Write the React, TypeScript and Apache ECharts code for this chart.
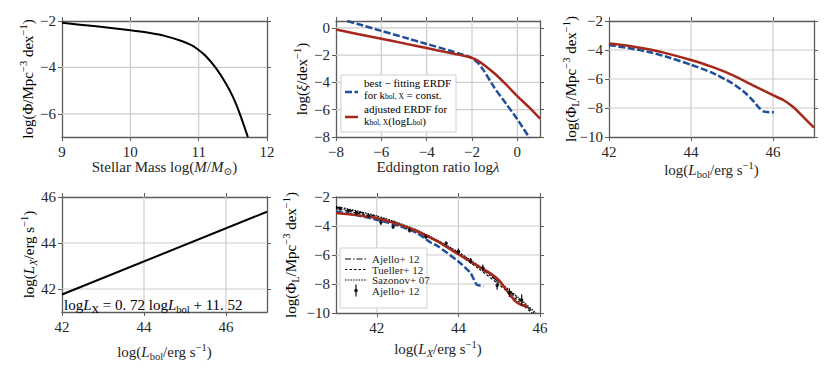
import React, { useEffect, useRef } from "react";
import * as echarts from "echarts";

// ---------- data ----------
// Panel 1: stellar mass function
const massX = [9, 9.5, 10, 10.25, 10.5, 10.75, 10.9, 11, 11.1, 11.25, 11.4, 11.5, 11.6, 11.72];
const massY = [-2.08, -2.23, -2.4, -2.5, -2.64, -2.86, -3.05, -3.25, -3.5, -4.02, -4.7, -5.26, -5.98, -7.0];

// Panel 2: ERDF
const erdfBlueX = [-7.5, -7, -6, -5, -4, -3, -2.5, -2.2, -2, -1.75, -1.5, -1, -0.5, 0, 0.55];
const erdfBlueY = [0.5, 0.26, -0.22, -0.7, -1.18, -1.66, -1.92, -2.07, -2.22, -2.55, -3.08, -4.42, -5.55, -6.7, -8.1];
const erdfRedX = [-8, -7, -6, -5, -4, -3, -2.5, -2.2, -2, -1.75, -1.5, -1, -0.5, 0, 0.5, 1];
const erdfRedY = [-0.12, -0.47, -0.8, -1.14, -1.48, -1.83, -2.0, -2.1, -2.2, -2.4, -2.68, -3.35, -4.15, -5.0, -5.8, -6.65];

// Panel 3: bolometric LF
const lbolRedX = [42, 42.5, 43, 43.5, 44, 44.5, 45, 45.5, 46, 46.25, 46.5, 46.75, 47];
const lbolRedY = [-3.55, -3.72, -3.97, -4.3, -4.69, -5.15, -5.72, -6.42, -7.12, -7.45, -7.95, -8.65, -9.35];
const lbolBlueX = [42, 42.5, 43, 43.5, 44, 44.5, 45, 45.3, 45.5, 45.65, 45.78, 46.02];
const lbolBlueY = [-3.65, -3.88, -4.15, -4.55, -5.02, -5.55, -6.28, -6.9, -7.45, -7.95, -8.25, -8.3];

// Panel 4: bolometric correction relation
const relX = [42, 47];
const relY = [41.76, 45.36];

// Panel 5: X-ray LF
const xlfRedX = [41, 41.5, 42, 42.5, 43, 43.5, 44, 44.5, 44.8, 45, 45.2, 45.4, 45.55, 45.7];
const xlfRedY = [-3.1, -3.25, -3.46, -3.85, -4.38, -5.08, -5.95, -6.8, -7.3, -7.75, -8.5, -9.2, -9.45, -9.55];
const xlfBlueX = [41, 41.5, 42, 42.5, 43, 43.3, 43.5, 44, 44.3, 44.45, 44.62];
const xlfBlueY = [-3.0, -3.25, -3.57, -3.95, -4.5, -5.1, -5.4, -6.45, -7.25, -8.05, -8.15];
const ajelloLineX = [41, 41.5, 42, 42.5, 43, 43.5, 44, 44.5, 45, 45.5, 45.85];
const ajelloLineY = [-2.7, -3.0, -3.35, -3.8, -4.35, -5.05, -5.85, -6.8, -7.9, -9.1, -10];
const tuellerX = [41, 41.5, 42, 42.5, 43, 43.5, 44, 44.5, 45, 45.5, 45.8];
const tuellerY = [-2.8, -3.1, -3.45, -3.9, -4.4, -5.1, -5.95, -6.95, -8.05, -9.25, -10];
const sazonovX = [41, 41.5, 42, 42.5, 43, 43.5, 44, 44.5, 45, 45.5, 45.9];
const sazonovY = [-2.65, -2.95, -3.3, -3.75, -4.3, -5.0, -5.8, -6.75, -7.85, -9.0, -10];
const ajPtsX = [41.1, 41.3, 41.5, 41.8, 42.1, 42.4, 42.8, 43.2, 43.7, 44.0, 44.3, 44.6, 44.95, 45.25, 45.55];
const ajPtsY = [-2.8, -2.95, -3.1, -3.3, -3.75, -4.05, -4.3, -4.75, -5.2, -5.75, -6.4, -6.9, -8.1, -8.6, -9.1];
const ajPtsE = [0.15, 0.12, 0.15, 0.12, 0.2, 0.15, 0.15, 0.15, 0.15, 0.2, 0.2, 0.25, 0.3, 0.3, 0.4];

// tick values
const ticksMass = [9, 10, 11, 12];
const ticksMassY = [-6, -4, -2];
const ticksEdd = [-8, -6, -4, -2, 0];
const ticksXi = [-8, -6, -4, -2, 0];
const ticksL = [42, 44, 46];
const ticksPhi = [-10, -8, -6, -4, -2];
const ticksLX = [42, 44, 46];

// ---------- style ----------
const F = "'Liberation Serif', 'DejaVu Serif', serif";
const TC = "#262626";
const FRAME = "#5c5c5c";
const GRIDC = "#cdcdcd";
const BLUE = "#1f4f9c";
const RED = "#a5291b";

const rich: any = {
  n: { fontFamily: F, fontSize: 15, color: TC, lineHeight: 20 },
  i: { fontFamily: F, fontSize: 15, color: TC, fontStyle: "italic", lineHeight: 20 },
  sb: { fontFamily: F, fontSize: 10.5, color: TC, verticalAlign: "bottom" },
  sbi: { fontFamily: F, fontSize: 10.5, color: TC, fontStyle: "italic", verticalAlign: "bottom" },
  sp: { fontFamily: F, fontSize: 10.5, color: TC, verticalAlign: "top" },
};

const lrich: any = {
  a: { fontFamily: F, fontSize: 11, color: TC, lineHeight: 11.5 },
  s: { fontFamily: F, fontSize: 7.5, color: TC, verticalAlign: "bottom", lineHeight: 11.5 },
};

const fmt = (v: number) => (v < 0 ? "\u2212" + Math.abs(v) : String(v));
const zip = (xs: number[], ys: number[]) => xs.map((x, i) => [x, ys[i]]);

type Panel = {
  left: number; top: number; width: number; height: number;
  xMin: number; xMax: number; xTicks: number[];
  yMin: number; yMax: number; yTicks: number[];
  xName: string; yName: string; xGap: number; yNameX: number;
};

const panels: Panel[] = [
  { left: 62, top: 21, width: 205, height: 116, xMin: 9, xMax: 12, xTicks: ticksMass, yMin: -7, yMax: -2, yTicks: ticksMassY,
    xName: "{n|Stellar Mass log(}{i|M}{n|/}{i|M}{sb|\u2299}{n|)}", yName: "{n|log(\u03a6/Mpc}{sp|\u22123}{n| dex}{sp|\u22121}{n|)}", xGap: 20, yNameX: 28 },
  { left: 336, top: 21, width: 204, height: 116, xMin: -8, xMax: 1, xTicks: ticksEdd, yMin: -8, yMax: 0.5, yTicks: ticksXi,
    xName: "{n|Eddington ratio log}{i|\u03bb}", yName: "{n|log(}{i|\u03be}{n|/dex}{sp|\u22121}{n|)}", xGap: 20, yNameX: 302 },
  { left: 609, top: 21, width: 205, height: 116, xMin: 42, xMax: 47, xTicks: ticksL, yMin: -10, yMax: -2, yTicks: ticksPhi,
    xName: "{n|log(}{i|L}{sb|bol}{n|/erg s}{sp|\u22121}{n|)}", yName: "{n|log(\u03a6}{sb|L}{n|/Mpc}{sp|\u22123}{n| dex}{sp|\u22121}{n|)}", xGap: 22, yNameX: 571 },
  { left: 62, top: 197, width: 205, height: 115, xMin: 42, xMax: 47, xTicks: ticksL, yMin: 41, yMax: 46, yTicks: ticksLX,
    xName: "{n|log(}{i|L}{sb|bol}{n|/erg s}{sp|\u22121}{n|)}", yName: "{n|log(}{i|L}{sbi|X}{n|/erg s}{sp|\u22121}{n|)}", xGap: 30, yNameX: 29 },
  { left: 336, top: 197, width: 204, height: 116, xMin: 41, xMax: 46, xTicks: ticksLX, yMin: -10, yMax: -2, yTicks: ticksPhi,
    xName: "{n|log(}{i|L}{sbi|X}{n|/erg s}{sp|\u22121}{n|)}", yName: "{n|log(\u03a6}{sb|L}{n|/Mpc}{sp|\u22123}{n| dex}{sp|\u22121}{n|)}", xGap: 26, yNameX: 291 },
];

function buildOption() {
  const grid: any[] = [];
  const xAxis: any[] = [];
  const yAxis: any[] = [];
  const frameLine = { show: true, onZero: false, lineStyle: { color: FRAME, width: 1.3 } };
  const tickStyle = { color: FRAME, width: 1 };
  const labelStyle = { fontFamily: F, fontSize: 15, color: TC };
  const mainX: number[] = [];
  const mainY: number[] = [];

  panels.forEach((p, gi) => {
    grid.push({ left: p.left, top: p.top, width: p.width, height: p.height, containLabel: false });
    mainX.push(xAxis.length);
    xAxis.push({
      type: "value", gridIndex: gi, min: p.xMin, max: p.xMax, position: "bottom",
      axisLine: frameLine,
      axisTick: { show: true, inside: false, length: 4, customValues: p.xTicks, lineStyle: tickStyle },
      axisLabel: { show: true, customValues: p.xTicks, formatter: fmt, margin: 7, ...labelStyle },
      splitLine: { show: false },
      name: p.xName, nameLocation: "middle", nameGap: p.xGap,
      nameTextStyle: { rich },
    });
    xAxis.push({
      type: "value", gridIndex: gi, min: p.xMin, max: p.xMax, position: "top",
      axisLine: frameLine,
      axisTick: { show: true, inside: false, length: 4, customValues: p.xTicks, lineStyle: tickStyle },
      axisLabel: { show: false }, splitLine: { show: false },
    });
    mainY.push(yAxis.length);
    yAxis.push({
      type: "value", gridIndex: gi, min: p.yMin, max: p.yMax, position: "left",
      axisLine: frameLine,
      axisTick: { show: true, inside: false, length: 4, customValues: p.yTicks, lineStyle: tickStyle },
      axisLabel: { show: true, customValues: p.yTicks, formatter: fmt, margin: 6, ...labelStyle },
      splitLine: { show: false },
    });
    yAxis.push({
      type: "value", gridIndex: gi, min: p.yMin, max: p.yMax, position: "right",
      axisLine: frameLine,
      axisTick: { show: true, inside: false, length: 4, customValues: p.yTicks, lineStyle: tickStyle },
      axisLabel: { show: false }, splitLine: { show: false },
    });
  });

  const line = (gi: number, xs: number[], ys: number[], color: string, width: number, type: any, smooth = true, z = 3) => ({
    type: "line", xAxisIndex: mainX[gi], yAxisIndex: mainY[gi], data: zip(xs, ys),
    symbol: "none", showSymbol: false, smooth: smooth ? 0.2 : false, clip: false,
    lineStyle: { color, width, type, opacity: 1 },
    z,
  });

  // grid lines at tick values, each a two-point line through the panel's own axes
  const gridSeries: any[] = [];
  panels.forEach((p, gi) => {
    p.xTicks.filter((v) => v > p.xMin && v < p.xMax).forEach((v) => {
      gridSeries.push(line(gi, [v, v], [p.yMin, p.yMax], GRIDC, 1.2, "solid", false, 2));
    });
    p.yTicks.filter((v) => v > p.yMin && v < p.yMax).forEach((v) => {
      gridSeries.push(line(gi, [p.xMin, p.xMax], [v, v], GRIDC, 1.2, "solid", false, 2));
    });
  });

  const clipLine = (o: any) => ({ ...o, clip: true });

  const series: any[] = [
    ...gridSeries,
    clipLine(line(0, massX, massY, "#000", 2, "solid")),
    clipLine(line(1, erdfBlueX, erdfBlueY, BLUE, 2.5, [7, 2.5])),
    clipLine(line(1, erdfRedX, erdfRedY, RED, 2.5, "solid")),
    clipLine(line(2, lbolBlueX, lbolBlueY, BLUE, 2.5, [7, 2.5])),
    clipLine(line(2, lbolRedX, lbolRedY, RED, 2.5, "solid")),
    clipLine(line(3, relX, relY, "#000", 2, "solid", false)),
    clipLine(line(4, ajelloLineX, ajelloLineY, "#000", 1.2, [6, 2, 1.5, 2])),
    clipLine(line(4, tuellerX, tuellerY, "#000", 1.2, [2.5, 2])),
    clipLine(line(4, sazonovX, sazonovY, "#000", 1.2, [1.5, 1.2])),
    {
      type: "custom", xAxisIndex: mainX[4], yAxisIndex: mainY[4], z: 4,
      data: ajPtsX.map((x, i) => [x, ajPtsY[i], ajPtsE[i]]),
      encode: { x: 0, y: 1 },
      renderItem: (params: any, api: any) => {
        const x = api.value(0), y = api.value(1), e = api.value(2);
        const t = api.coord([x, y + e]);
        const b = api.coord([x, y - e]);
        const c = api.coord([x, y]);
        return {
          type: "group",
          children: [
            { type: "line", shape: { x1: t[0], y1: t[1], x2: b[0], y2: b[1] }, style: { stroke: "#111", lineWidth: 1.2 } },
            { type: "circle", shape: { cx: c[0], cy: c[1], r: 1.7 }, style: { fill: "#111" } },
          ],
        };
      },
    },
    clipLine(line(4, xlfBlueX, xlfBlueY, BLUE, 2.5, [7, 2.5])),
    clipLine(line(4, xlfRedX, xlfRedY, RED, 2.5, "solid")),
  ];

  const yNames = panels.map((p) => ({
    type: "text", x: p.yNameX, y: p.top + p.height / 2, rotation: Math.PI / 2, z: 11,
    style: { text: p.yName, rich, align: "center", verticalAlign: "middle" },
  }));

  const graphic: any[] = [
    ...yNames,
    // panel 2 legend
    { type: "rect", shape: { x: 341, y: 75, width: 115, height: 57 }, style: { fill: "rgba(255,255,255,0.92)", stroke: "#cfcfcf", lineWidth: 1 }, z: 10 },
    { type: "line", shape: { x1: 345, y1: 92, x2: 358, y2: 92 }, style: { stroke: BLUE, lineWidth: 2.5, lineDash: [7, 2.5] }, z: 11 },
    { type: "text", x: 364, y: 77.5, z: 11, style: { text: "{a|best \u2212 fitting ERDF}\n{a|for k}{s|bol, X}{a| = const.}", rich: lrich } },
    { type: "line", shape: { x1: 345, y1: 117, x2: 358, y2: 117 }, style: { stroke: RED, lineWidth: 2.5 }, z: 11 },
    { type: "text", x: 364, y: 103.5, z: 11, style: { text: "{a|adjusted ERDF for}\n{a|k}{s|bol, X}{a|(logL}{s|bol}{a|)}", rich: lrich } },
    // panel 4 annotation
    { type: "text", x: 64, y: 295, z: 11, style: { text: "{n|log}{i|L}{sb|X}{n| = 0. 72 log}{i|L}{sb|bol}{n| + 11. 52}", rich } },
    // panel 5 legend
    { type: "rect", shape: { x: 340, y: 248, width: 87, height: 60 }, style: { fill: "rgba(255,255,255,0.92)", stroke: "#cfcfcf", lineWidth: 1 }, z: 10 },
    { type: "line", shape: { x1: 345, y1: 259, x2: 367, y2: 259 }, style: { stroke: "#000", lineWidth: 1.2, lineDash: [6, 2, 1.5, 2] }, z: 11 },
    { type: "text", x: 372, y: 259, z: 11, style: { text: "Ajello+ 12", font: `11px ${F}`, fill: TC, verticalAlign: "middle" } },
    { type: "line", shape: { x1: 345, y1: 269.5, x2: 367, y2: 269.5 }, style: { stroke: "#000", lineWidth: 1.2, lineDash: [2.5, 2] }, z: 11 },
    { type: "text", x: 372, y: 269.5, z: 11, style: { text: "Tueller+ 12", font: `11px ${F}`, fill: TC, verticalAlign: "middle" } },
    { type: "line", shape: { x1: 345, y1: 280, x2: 367, y2: 280 }, style: { stroke: "#000", lineWidth: 1.2, lineDash: [1.5, 1.2] }, z: 11 },
    { type: "text", x: 372, y: 280, z: 11, style: { text: "Sazonov+ 07", font: `11px ${F}`, fill: TC, verticalAlign: "middle" } },
    { type: "line", shape: { x1: 356, y1: 284.5, x2: 356, y2: 296.5 }, style: { stroke: "#111", lineWidth: 1.2 }, z: 11 },
    { type: "circle", shape: { cx: 356, cy: 290.5, r: 1.8 }, style: { fill: "#111" }, z: 11 },
    { type: "text", x: 372, y: 290.5, z: 11, style: { text: "Ajello+ 12", font: `11px ${F}`, fill: TC, verticalAlign: "middle" } },
  ];

  return { animation: false, backgroundColor: "#fff", grid, xAxis, yAxis, series, graphic };
}

export default function App() {
  const ref = useRef<HTMLDivElement>(null);
  useEffect(() => {
    if (!ref.current) return;
    const chart = echarts.init(ref.current, undefined, { renderer: "svg" });
    chart.setOption(buildOption() as any);
    return () => chart.dispose();
  }, []);
  return (
    <div
      ref={ref}
      style={{ position: "fixed", left: 0, top: 0, width: 830, height: 369, background: "#fff" }}
    />
  );
}
